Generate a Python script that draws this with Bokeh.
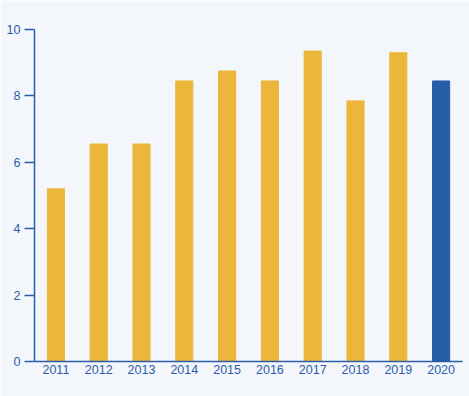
from bokeh.plotting import figure
from bokeh.models import ColumnDataSource, FactorRange, Range1d, FixedTicker
from bokeh.embed import file_html
from bokeh.resources import INLINE

years = ["2011", "2012", "2013", "2014", "2015", "2016", "2017", "2018", "2019", "2020"]
values = [5.2, 6.55, 6.55, 8.45, 8.75, 8.45, 9.35, 7.85, 9.3, 8.45]
y_ticks = [0, 2, 4, 6, 8, 10]
highlight_year = "2020"

BASE = "#ECB63A"
HIGH = "#255DA7"
AXIS = "#2A5CAA"
BG = "#F3F7FB"

colors = [HIGH if y == highlight_year else BASE for y in years]
source = ColumnDataSource(dict(x=years, top=values, color=colors))

p = figure(width=469, height=396, x_range=FactorRange(*years, range_padding=0),
           y_range=Range1d(0, 10), output_backend="svg", toolbar_location=None,
           min_border_left=34, min_border_right=7, min_border_top=29, min_border_bottom=35)
p.background_fill_color = BG
p.border_fill_color = BG
p.outline_line_color = None
p.xgrid.grid_line_color = None
p.ygrid.grid_line_color = None

p.vbar(x="x", top="top", width=0.4, color="color", source=source)

p.yaxis.ticker = FixedTicker(ticks=y_ticks)
p.yaxis.axis_line_color = AXIS
p.yaxis.axis_line_width = 1.5
p.yaxis.major_tick_line_color = AXIS
p.yaxis.major_tick_line_width = 1.5
p.yaxis.major_tick_out = 10
p.yaxis.major_tick_in = 0
p.yaxis.minor_tick_line_color = None
p.yaxis.major_label_standoff = 4

p.xaxis.axis_line_color = AXIS
p.xaxis.axis_line_width = 1.5
p.xaxis.major_tick_line_color = None
p.xaxis.major_tick_out = 0
p.xaxis.major_tick_in = 0
p.xaxis.minor_tick_line_color = None
p.xaxis.minor_tick_out = 0
p.xaxis.major_label_standoff = 3

for ax in (p.xaxis, p.yaxis):
    ax.major_label_text_color = AXIS
    ax.major_label_text_font = "Liberation Sans"
    ax.major_label_text_font_size = "12.5px"

open("out.html", "w").write(file_html(p, INLINE))
